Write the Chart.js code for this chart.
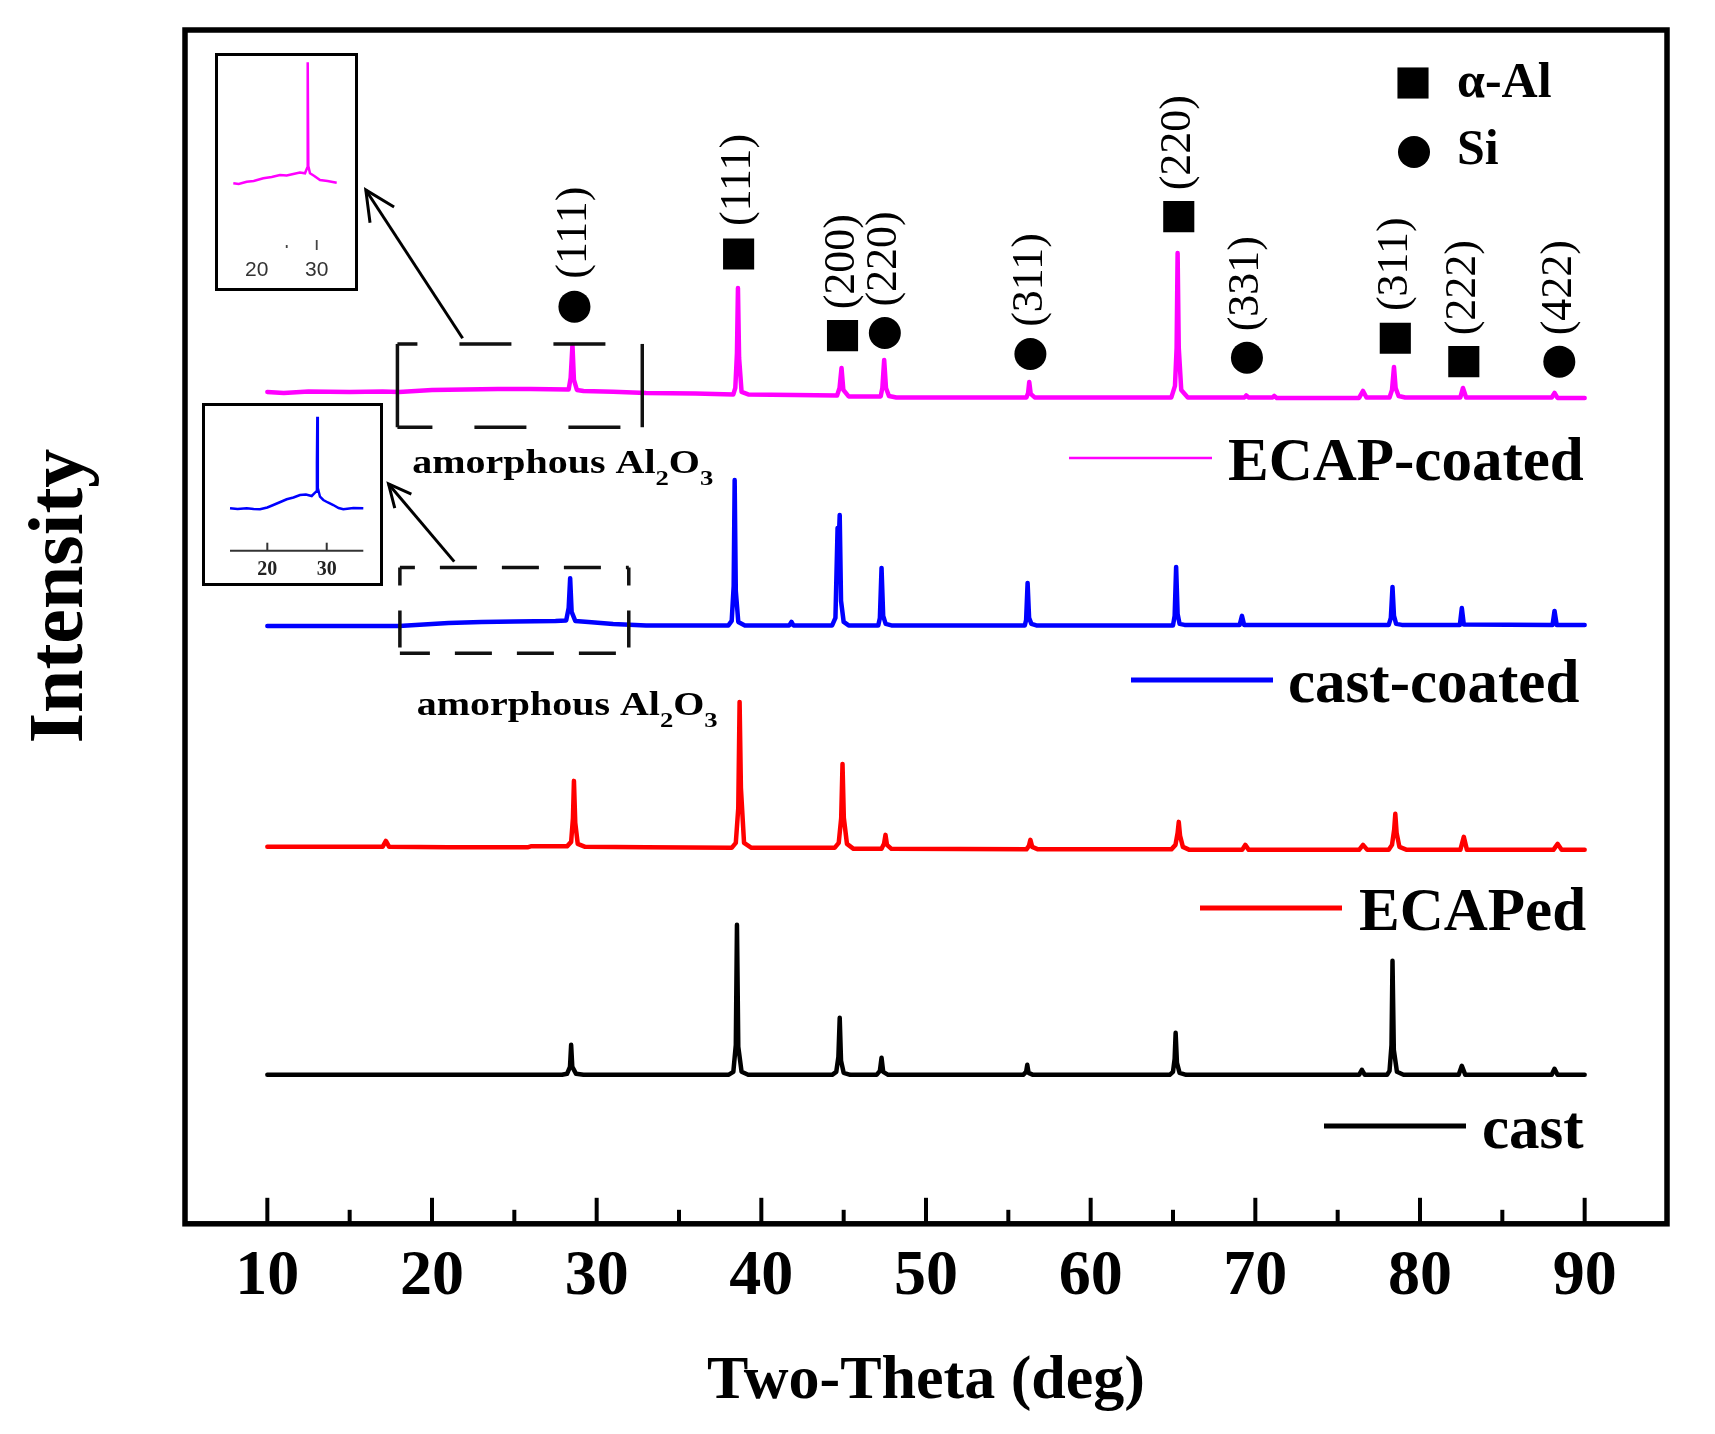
<!DOCTYPE html>
<html><head><meta charset="utf-8">
<script src="https://cdn.jsdelivr.net/npm/chart.js"></script>
<style>
html,body{margin:0;padding:0;background:#fff;overflow:hidden;}
#wrap{position:relative;width:1715px;height:1434px;background:#fff;}
#main{position:absolute;left:0;top:0;}
.inset{position:absolute;border:3px solid #000;background:#fff;box-sizing:border-box;}
.inset canvas{display:block;}
</style></head><body>
<div id="wrap">
<canvas id="main" width="1715" height="1434"></canvas>
<div class="inset" style="left:215px;top:53px;width:143px;height:238px;"><canvas id="inset1" width="137" height="232"></canvas></div>
<div class="inset" style="left:202px;top:403px;width:181px;height:183px;"><canvas id="inset2" width="175" height="177"></canvas></div>
</div>
<script>
// ---------------- data ----------------
const seriesNames = ['ECAP-coated', 'cast-coated', 'ECAPed', 'cast'];
const seriesColors = ['#ff00ff', '#0000ff', '#ff0000', '#000000'];
const seriesOffsets = [826, 598, 376, 149];   // vertical stacking offsets (a.u.)

const ecTwoTheta = [10, 11, 12.5, 15, 17, 18, 19, 20, 22, 24, 26, 28.3, 28.42, 28.53, 28.62, 28.8, 29.2, 31, 33, 36, 38.3, 38.42, 38.52, 38.58, 38.65, 38.8, 39.2, 42, 44.6, 44.75, 44.87, 44.98, 45.3, 47.25, 47.35, 47.46, 47.57, 47.75, 48.2, 56.1, 56.2, 56.27, 56.36, 56.6, 64.9, 65.12, 65.22, 65.28, 65.35, 65.5, 65.9, 69.35, 69.45, 69.6, 71.05, 71.15, 71.3, 76.3, 76.54, 76.75, 78.15, 78.3, 78.42, 78.52, 78.7, 79.1, 82.45, 82.61, 82.8, 88.0, 88.17, 88.35, 90];
const ecIntensity = [6, 5, 6.5, 6, 6.5, 6, 7, 8, 8.5, 9, 9, 8.5, 20, 53, 18, 8, 7, 6.3, 5, 4.5, 3.5, 10, 45, 110, 40, 6, 3.5, 3, 2.5, 10, 30, 8, 1.5, 1.5, 10, 38, 10, 2, 0.5, 0.5, 5, 16, 4, 0.5, 0.5, 12, 50, 145, 50, 8, 0.5, 0.5, 2.5, 0.5, 0.5, 2, 0, 0, 7, 0.5, 0.5, 8, 31, 10, 2, 0.5, 0.5, 10, 0.5, 0.5, 5, 0, 0];

const ccTwoTheta = [10, 18, 19.5, 21, 23, 25, 27.5, 28.15, 28.3, 28.39, 28.48, 28.7, 29.5, 31, 33, 38.0, 38.2, 38.32, 38.38, 38.45, 38.6, 39.0, 41.7, 41.83, 41.95, 44.3, 44.5, 44.63, 44.69, 44.76, 44.84, 45.0, 45.3, 47.1, 47.2, 47.3, 47.4, 47.55, 47.9, 56.0, 56.08, 56.17, 56.26, 56.4, 56.7, 65.0, 65.1, 65.19, 65.28, 65.4, 65.7, 69.05, 69.19, 69.32, 78.1, 78.23, 78.33, 78.42, 78.55, 78.9, 82.42, 82.54, 82.66, 88.05, 88.17, 88.3, 90];
const ccIntensity = [0, 0, 1.5, 3, 4, 4.5, 5, 5.5, 18, 47.7, 14, 5, 4, 2, 0.5, 0.5, 5, 40, 146, 35, 4, 0.5, 0.5, 4, 0.5, 0.5, 8, 98, 80, 111, 25, 4, 0.5, 0.5, 8, 58, 10, 2, 0.5, 0.5, 6, 43, 8, 2, 0.5, 0.5, 10, 59, 12, 2, 1, 1, 10, 1, 1, 8, 39, 10, 2, 1, 1, 18, 1.5, 1, 15, 1, 1];

const ecapTwoTheta = [10, 14, 17.0, 17.2, 17.4, 21, 25.8, 26.0, 28.2, 28.45, 28.56, 28.62, 28.7, 28.85, 29.3, 33, 38.2, 38.45, 38.6, 38.68, 38.76, 38.95, 39.4, 44.45, 44.7, 44.85, 44.93, 45.01, 45.2, 45.6, 47.3, 47.45, 47.54, 47.63, 47.9, 56.1, 56.25, 56.34, 56.45, 56.8, 64.9, 65.15, 65.28, 65.35, 65.43, 65.6, 66.0, 69.2, 69.39, 69.6, 76.3, 76.54, 76.8, 78.1, 78.3, 78.43, 78.5, 78.58, 78.75, 79.2, 82.45, 82.66, 82.85, 88.1, 88.36, 88.6, 90];
const ecapIntensity = [1, 1, 1, 7, 1, 0.5, 0.5, 1.5, 1.5, 6, 30, 67, 25, 4, 1, 0.5, 0, 5, 40, 146, 60, 5, 0, 0, 5, 30, 84, 30, 4, -1, -1, 4, 13, 3, -1, -1.5, 2, 8, 1, -1.5, -1.5, 3, 15, 26, 12, 1, -2, -2, 3, -2, -2, 3, -2, -2, 3, 18, 34, 15, 1, -2, -2, 11, -2, -2, 4, -2, -2];

const castTwoTheta = [10, 27.9, 28.2, 28.38, 28.45, 28.52, 28.75, 29.2, 38.0, 38.3, 38.45, 38.52, 38.6, 38.8, 39.2, 44.3, 44.55, 44.68, 44.76, 44.84, 45.0, 45.4, 47.0, 47.2, 47.3, 47.4, 47.7, 55.9, 56.08, 56.15, 56.23, 56.5, 64.8, 65.0, 65.1, 65.16, 65.24, 65.4, 65.8, 76.3, 76.47, 76.65, 78.0, 78.15, 78.27, 78.33, 78.41, 78.6, 79.0, 82.35, 82.54, 82.75, 88.0, 88.17, 88.35, 90];
const castIntensity = [0, 0, 1, 8, 30, 8, 1, 0, 0, 3, 30, 150, 28, 3, 0, 0, 3, 18, 57, 14, 2, 0, 0, 4, 17, 3, 0, 0, 3, 10, 2, 0, 0, 3, 16, 42, 12, 2, 0, 0, 5, 0, 0, 4, 30, 114, 25, 3, 0, 0, 9, 0, 0, 6, 0, 0];

// phase markers
const alTwoTheta = [38.62, 44.93, 65.35, 78.50, 82.66];
const alMarkerY = [970, 888.3, 1007.3, 885.7, 862.3];
const alHkl = ['(111)', '(200)', '(220)', '(311)', '(222)'];
const siTwoTheta = [28.65, 47.50, 56.34, 69.49, 88.46];
const siMarkerY = [917.3, 891, 870, 866.3, 862.3];
const siHkl = ['(111)', '(220)', '(311)', '(331)', '(422)'];
const phaseNames = ['α-Al', 'Si'];

const xTickLabels = [10, 20, 30, 40, 50, 60, 70, 80, 90];

// insets (amorphous Al2O3 region)
const inset1TwoTheta = [16.1, 17.0, 18.33, 19.5, 21.1, 22.5, 23.88, 25.0, 26.1, 27.2, 28.05, 28.4, 28.5, 28.6, 28.88, 29.6, 30.55, 31.8, 33.33];
const inset1Intensity = [104.7, 104, 106.3, 107, 109.7, 111, 113, 112.5, 114, 115.5, 114.7, 120, 225.7, 122, 114.7, 112, 108, 107, 105.3];
const inset2TwoTheta = [13.72, 15, 16.53, 17.7, 18.77, 20, 21.01, 22.2, 23.27, 24.4, 25.5, 26.5, 27.47, 28.2, 28.35, 28.42, 28.5, 28.87, 29.43, 30.2, 31.11, 32, 32.79, 34.5, 36.16];
const inset2Intensity = [74.7, 74, 74.7, 74, 73.7, 75.5, 78, 81, 83.7, 85.5, 88, 88.5, 87, 91.3, 120, 166.3, 95, 86.3, 83, 80.5, 78, 75, 73.7, 75, 74.7];
const insetTickLabels = [20, 30];

// ---------------- build ----------------
const seriesX = [ecTwoTheta, ccTwoTheta, ecapTwoTheta, castTwoTheta];
const seriesY = [ecIntensity, ccIntensity, ecapIntensity, castIntensity];
const SERIF = '"Liberation Serif", "Times New Roman", serif';

const datasets = seriesNames.map((name, s) => ({
  label: name,
  data: seriesX[s].map((x, i) => ({x: x, y: seriesOffsets[s] + seriesY[s][i]})),
  showLine: true, borderColor: seriesColors[s], borderWidth: 4.5, pointRadius: 0,
  tension: 0, borderJoinStyle: 'round', borderCapStyle: 'round', order: 10
}));
datasets.push({label: phaseNames[0], data: alTwoTheta.map((x, i) => ({x: x, y: alMarkerY[i]})),
  pointStyle: 'rect', pointRadius: 22, backgroundColor: '#000', borderWidth: 0, showLine: false, order: 1});
datasets.push({label: phaseNames[1], data: siTwoTheta.map((x, i) => ({x: x, y: siMarkerY[i]})),
  pointStyle: 'circle', pointRadius: 16, backgroundColor: '#000', borderWidth: 0, showLine: false, order: 1});

// layout of decorations (pixels / data coords)
const seriesLegendLayout = [
  {x0: 1069, x1: 1212, y: 458, textX: 1228, lw: 2.5},
  {x0: 1131, x1: 1273, y: 680, textX: 1288, lw: 5},
  {x0: 1200, x1: 1342, y: 908, textX: 1359, lw: 5},
  {x0: 1324, x1: 1466, y: 1126, textX: 1482, lw: 5}
];
const annot = {
  boxes: [
    {x0: 17.9, x1: 32.77, y0: 796.7, y1: 880, hDash: [52, 42], hOff: 32, vDash: [], vOff: 0},
    {x0: 18.05, x1: 31.95, y0: 570.7, y1: 656.3, hDash: [37, 25], hOff: 22, vDash: [37, 25], vOff: 19}
  ],
  arrows: [
    {from: [21.86, 885.7], to: [15.98, 1034], head: 33},
    {from: [21.35, 662.3], to: [17.36, 740], head: 25}
  ],
  texts: [{x: 18.80, y: 751, w: 301}, {x: 19.07, y: 509, w: 301}]
};

function drawAl2O3(ctx, x, y, targetW) {
  const parts = [['amorphous Al', 33, 0], ['2', 22, 12], ['O', 33, 0], ['3', 22, 12]];
  let total = 0;
  parts.forEach(p => { ctx.font = 'bold ' + p[1] + 'px ' + SERIF; total += ctx.measureText(p[0]).width; });
  const sc = targetW / total;
  ctx.save();
  ctx.translate(x, y); ctx.scale(sc, 1);
  ctx.textAlign = 'left'; ctx.textBaseline = 'alphabetic'; ctx.fillStyle = '#000';
  let cx = 0;
  parts.forEach(p => {
    ctx.font = 'bold ' + p[1] + 'px ' + SERIF;
    ctx.fillText(p[0], cx, p[2]);
    cx += ctx.measureText(p[0]).width;
  });
  ctx.restore();
}

const xrdPlugin = {
  id: 'xrd',
  afterDatasetsDraw(chart) {
    const ctx = chart.ctx, xs = chart.scales.x, ys = chart.scales.y, ca = chart.chartArea;
    const X = v => xs.getPixelForValue(v), Y = v => ys.getPixelForValue(v);
    ctx.save();
    ctx.lineCap = 'butt';
    // frame
    ctx.strokeStyle = '#000'; ctx.lineWidth = 5.5;
    ctx.strokeRect(ca.left, ca.top, ca.right - ca.left, ca.bottom - ca.top);
    // inward ticks
    ctx.lineWidth = 4;
    xs.ticks.forEach(t => {
      if (t.value <= xs.min || t.value >= xs.max) return;
      const px = X(t.value);
      const len = (t.value % 10 === 0) ? 26 : 14;
      ctx.beginPath(); ctx.moveTo(px, ca.bottom); ctx.lineTo(px, ca.bottom - len); ctx.stroke();
    });
    // y title
    ctx.save();
    ctx.translate(62, 596); ctx.rotate(-Math.PI / 2);
    ctx.font = 'bold 78px ' + SERIF; ctx.fillStyle = '#000';
    ctx.textAlign = 'center'; ctx.textBaseline = 'middle';
    ctx.fillText('Intensity', 0, 0);
    ctx.restore();
    // hkl labels above markers
    [[4, alHkl], [5, siHkl]].forEach(([di, labels]) => {
      const meta = chart.getDatasetMeta(di);
      meta.data.forEach((el, i) => {
        ctx.save();
        ctx.translate(el.x, el.y - 74); ctx.rotate(-Math.PI / 2);
        ctx.font = '44px ' + SERIF; ctx.fillStyle = '#000';
        ctx.textAlign = 'center'; ctx.textBaseline = 'middle';
        ctx.fillText(labels[i], 0, 0);
        ctx.restore();
      });
    });
    // series legend
    seriesLegendLayout.forEach((L, s) => {
      ctx.strokeStyle = seriesColors[s]; ctx.lineWidth = L.lw;
      ctx.beginPath(); ctx.moveTo(L.x0, L.y); ctx.lineTo(L.x1, L.y); ctx.stroke();
      ctx.font = 'bold 61px ' + SERIF; ctx.fillStyle = '#000';
      ctx.textAlign = 'left'; ctx.textBaseline = 'alphabetic';
      ctx.fillText(seriesNames[s], L.textX, L.y + 22);
    });
    // phase legend
    ctx.fillStyle = '#000';
    Chart.helpers.drawPoint(ctx, {pointStyle: 'rect', radius: 22, rotation: 0, borderWidth: 0}, 1413, 83);
    Chart.helpers.drawPoint(ctx, {pointStyle: 'circle', radius: 16, rotation: 0, borderWidth: 0}, 1414, 152);
    ctx.font = 'bold 50px ' + SERIF; ctx.textAlign = 'left'; ctx.textBaseline = 'alphabetic';
    ctx.fillText(phaseNames[0], 1457, 97);
    ctx.fillText(phaseNames[1], 1457, 164);
    // dashed boxes
    ctx.strokeStyle = '#111'; ctx.lineWidth = 3.5;
    annot.boxes.forEach(b => {
      const l = X(b.x0), r = X(b.x1), t = Y(b.y1), btm = Y(b.y0);
      const seg = (x0, y0, x1, y1, dash, off) => {
        ctx.setLineDash(dash); ctx.lineDashOffset = off;
        ctx.beginPath(); ctx.moveTo(x0, y0); ctx.lineTo(x1, y1); ctx.stroke();
      };
      seg(l, t, r, t, b.hDash, b.hOff);
      seg(l, btm, r, btm, b.hDash, b.hOff - 15);
      seg(l, t, l, btm, b.vDash, b.vOff);
      seg(r, t, r, btm, b.vDash, b.vOff);
    });
    ctx.setLineDash([]);
    // arrows
    ctx.strokeStyle = '#000'; ctx.lineWidth = 3;
    annot.arrows.forEach(a => {
      const x0 = X(a.from[0]), y0 = Y(a.from[1]), x1 = X(a.to[0]), y1 = Y(a.to[1]);
      ctx.beginPath(); ctx.moveTo(x0, y0); ctx.lineTo(x1, y1); ctx.stroke();
      const ang = Math.atan2(y0 - y1, x0 - x1);
      ctx.beginPath();
      ctx.moveTo(x1 + a.head * Math.cos(ang - 0.45), y1 + a.head * Math.sin(ang - 0.45));
      ctx.lineTo(x1, y1);
      ctx.lineTo(x1 + a.head * Math.cos(ang + 0.45), y1 + a.head * Math.sin(ang + 0.45));
      ctx.stroke();
    });
    // amorphous Al2O3 text
    annot.texts.forEach(tx => drawAl2O3(ctx, X(tx.x), Y(tx.y), tx.w));
    ctx.restore();
  }
};

new Chart(document.getElementById('main'), {
  type: 'scatter',
  data: {datasets: datasets},
  options: {
    responsive: false, animation: false, devicePixelRatio: 1,
    layout: {padding: {left: 185, right: 48, top: 30, bottom: 0}},
    plugins: {legend: {display: false}, tooltip: {enabled: false}},
    scales: {
      x: {
        type: 'linear', min: 5, max: 95, position: 'bottom',
        grid: {display: false, drawTicks: false}, border: {display: false},
        ticks: {
          stepSize: 5, autoSkip: false, maxRotation: 0, minRotation: 0, padding: 15, color: '#000',
          font: {family: SERIF, size: 64, weight: 'bold'},
          callback: v => xTickLabels.includes(v) ? String(v) : ''
        },
        title: {display: true, text: 'Two-Theta (deg)', color: '#000',
          font: {family: SERIF, size: 62, weight: 'bold'}, padding: {top: 14, bottom: 15}}
      },
      y: {type: 'linear', min: 0, max: 1194, display: false}
    }
  },
  plugins: [xrdPlugin]
});

// ---------------- insets ----------------
function makeInset(id, xArr, yArr, color, xMin, xMax, yMax, deco) {
  new Chart(document.getElementById(id), {
    type: 'scatter',
    data: {datasets: [{data: xArr.map((x, i) => ({x: x, y: yArr[i]})), showLine: true,
      borderColor: color, borderWidth: 2.5, pointRadius: 0, tension: 0}]},
    options: {
      responsive: false, animation: false, devicePixelRatio: 1,
      layout: {padding: 0},
      plugins: {legend: {display: false}, tooltip: {enabled: false}},
      scales: {x: {type: 'linear', min: xMin, max: xMax, display: false},
               y: {type: 'linear', min: 0, max: yMax, display: false}}
    },
    plugins: [{id: 'deco-' + id, afterDatasetsDraw(chart) { deco(chart); }}]
  });
}

makeInset('inset1', inset1TwoTheta, inset1Intensity, '#ff00ff', 13.55, 36.38, 232, chart => {
  const ctx = chart.ctx, xs = chart.scales.x, ys = chart.scales.y;
  ctx.save();
  ctx.strokeStyle = '#444'; ctx.lineWidth = 1.8;
  ctx.beginPath(); ctx.moveTo(xs.getPixelForValue(30), ys.getPixelForValue(38)); ctx.lineTo(xs.getPixelForValue(30), ys.getPixelForValue(48)); ctx.stroke();
  ctx.beginPath(); ctx.moveTo(xs.getPixelForValue(25), ys.getPixelForValue(40)); ctx.lineTo(xs.getPixelForValue(25), ys.getPixelForValue(43)); ctx.stroke();
  ctx.fillStyle = '#333'; ctx.font = '21px "Liberation Sans", Arial, sans-serif';
  ctx.textAlign = 'center'; ctx.textBaseline = 'middle';
  insetTickLabels.forEach(v => ctx.fillText(String(v), xs.getPixelForValue(v), ys.getPixelForValue(18)));
  ctx.restore();
});

makeInset('inset2', inset2TwoTheta, inset2Intensity, '#0000ff', 9.51, 38.97, 177, chart => {
  const ctx = chart.ctx, xs = chart.scales.x, ys = chart.scales.y;
  ctx.save();
  ctx.strokeStyle = '#333'; ctx.lineWidth = 2;
  const ay = ys.getPixelForValue(32.3);
  ctx.beginPath(); ctx.moveTo(xs.getPixelForValue(13.72), ay); ctx.lineTo(xs.getPixelForValue(36.16), ay); ctx.stroke();
  insetTickLabels.forEach(v => {
    ctx.beginPath(); ctx.moveTo(xs.getPixelForValue(v), ay); ctx.lineTo(xs.getPixelForValue(v), ay - 8); ctx.stroke();
  });
  ctx.fillStyle = '#222'; ctx.font = 'bold 20px ' + SERIF;
  ctx.textAlign = 'center'; ctx.textBaseline = 'middle';
  insetTickLabels.forEach(v => ctx.fillText(String(v), xs.getPixelForValue(v), ys.getPixelForValue(13)));
  ctx.restore();
});
</script>
</body></html>
